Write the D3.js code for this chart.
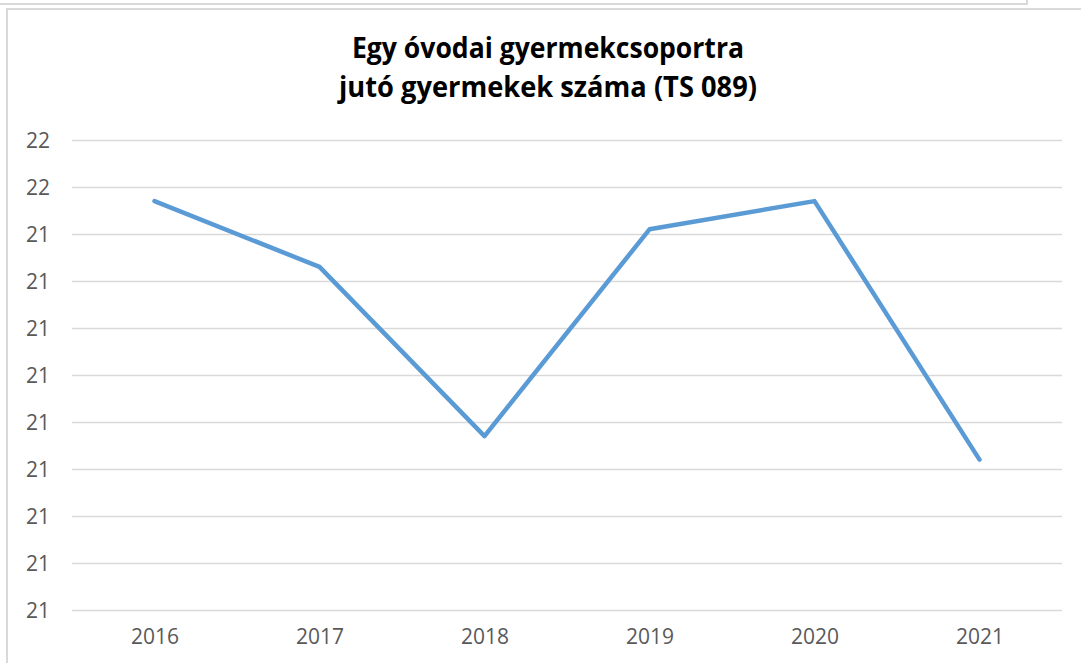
<!DOCTYPE html>
<html lang="hu">
<head>
    <meta charset="UTF-8">
    <title>Egy óvodai gyermekcsoportra jutó gyermekek száma</title>
    <style>
        body {
            margin: 0;
            background: #ffffff;
        }
        .tick text {
            font-family: "Open Sans", sans-serif;
            font-size: 21px;
            fill: #595959;
        }
        .title {
            font-family: "Open Sans", sans-serif;
            font-weight: bold;
            font-size: 29px;
            fill: #000000;
        }
    </style>
</head>
<body>
<svg id="chart" width="1081" height="663"></svg>

<script src="https://cdn.jsdelivr.net/npm/d3@7"></script>
<script>
    // adatok
    const years = ["2016", "2017", "2018", "2019", "2020", "2021"];
    const values = [21.47, 21.33, 20.97, 21.41, 21.47, 20.92];
    const yTicks = [20.6, 20.7, 20.8, 20.9, 21.0, 21.1, 21.2, 21.3, 21.4, 21.5, 21.6];
    const yTickLabels = ["21", "21", "21", "21", "21", "21", "21", "21", "21", "22", "22"];
    const titleLines = ["Egy óvodai gyermekcsoportra", "jutó gyermekek száma (TS 089)"];

    const svg = d3.select("#chart");

    // keretek
    svg.append("rect")
        .attr("x", -2).attr("y", -10)
        .attr("width", 1029).attr("height", 14)
        .attr("fill", "none")
        .attr("stroke", "#d9d9d9")
        .attr("stroke-width", 2);
    svg.append("rect")
        .attr("x", 7).attr("y", 9)
        .attr("width", 1090).attr("height", 680)
        .attr("fill", "#ffffff")
        .attr("stroke", "#d9d9d9")
        .attr("stroke-width", 2);

    const x = d3.scalePoint()
        .domain(years)
        .range([72, 1062])
        .padding(0.5);

    const y = d3.scaleLinear()
        .domain([20.6, 21.6])
        .range([610, 140]);

    // cím
    const title = svg.append("text")
        .attr("class", "title")
        .attr("text-anchor", "middle");
    title.selectAll("tspan")
        .data(titleLines)
        .enter().append("tspan")
        .attr("x", 548)
        .attr("y", (d, i) => 58 + i * 39)
        .attr("textLength", (d, i) => i === 0 ? 392 : 418)
        .attr("lengthAdjust", "spacingAndGlyphs")
        .text(d => d);

    // y tengely + rácsvonalak
    const yAxis = svg.append("g")
        .attr("transform", "translate(72,0)")
        .call(d3.axisLeft(y)
            .tickValues(yTicks)
            .tickFormat((d, i) => yTickLabels[i])
            .tickSize(-990)
            .tickPadding(22));
    yAxis.select(".domain").remove();
    yAxis.selectAll(".tick line")
        .attr("stroke", "#d9d9d9")
        .attr("stroke-width", 1.5);
    yAxis.selectAll(".tick text").attr("dy", "0.35em");

    // x tengely
    const xAxis = svg.append("g")
        .attr("transform", "translate(0,610)")
        .call(d3.axisBottom(x).tickSize(0).tickPadding(19));
    xAxis.select(".domain").remove();

    // vonal
    const line = d3.line()
        .x((d, i) => x(years[i]))
        .y(d => y(d));

    svg.append("path")
        .datum(values)
        .attr("fill", "none")
        .attr("stroke", "#5b9bd5")
        .attr("stroke-width", 4.5)
        .attr("stroke-linejoin", "round")
        .attr("stroke-linecap", "round")
        .attr("d", line);
</script>
</body>
</html>
